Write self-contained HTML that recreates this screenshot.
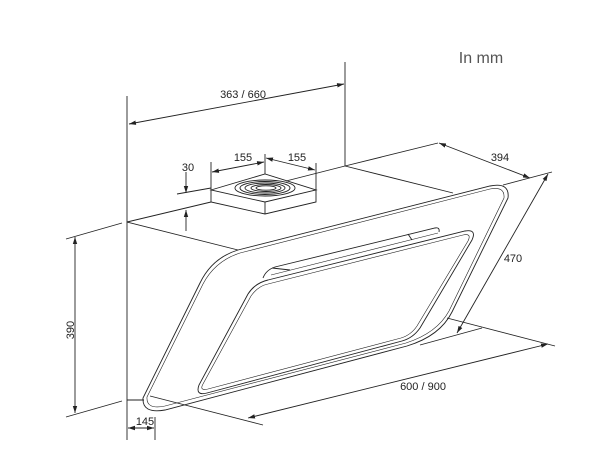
<!DOCTYPE html>
<html><head><meta charset="utf-8"><style>
html,body{margin:0;padding:0;background:#fff;}
svg{display:block;}
text{font-family:"Liberation Sans",sans-serif;font-size:11px;fill:#222;}
</style></head><body>
<svg width="600" height="470" viewBox="0 0 600 470" xmlns="http://www.w3.org/2000/svg">
<defs>
<marker id="a" markerWidth="8" markerHeight="6" refX="7" refY="3" orient="auto-start-reverse" markerUnits="userSpaceOnUse">
<path d="M0,0.8 L7,3 L0,5.2" fill="#222"/></marker>
</defs>
<g stroke="#222" stroke-width="0.9" fill="none">
<line x1="127" y1="96" x2="127" y2="440"/>
<line x1="345" y1="62" x2="345" y2="166"/>
<line x1="129" y1="124" x2="344" y2="84" marker-start="url(#a)" marker-end="url(#a)"/>
<line x1="127" y1="222" x2="211" y2="202"/>
<line x1="286" y1="181" x2="345" y2="166"/>
<line x1="345" y1="166" x2="453" y2="193"/>
<line x1="127" y1="222" x2="238" y2="250"/>
<line x1="345" y1="166" x2="438" y2="143"/>
<line x1="439" y1="143" x2="530" y2="178" marker-start="url(#a)" marker-end="url(#a)"/>
<line x1="503" y1="185" x2="552" y2="172"/>
<line x1="548" y1="174" x2="457" y2="333" marker-start="url(#a)" marker-end="url(#a)"/>
<line x1="447" y1="318" x2="555" y2="346"/>
<line x1="420" y1="345" x2="482" y2="328"/>
<line x1="248" y1="418" x2="548" y2="344" marker-start="url(#a)" marker-end="url(#a)"/>
<line x1="150" y1="396" x2="263" y2="425"/>
<line x1="75" y1="237" x2="75" y2="413" marker-start="url(#a)" marker-end="url(#a)"/>
<line x1="66" y1="239" x2="122" y2="223"/>
<line x1="66" y1="417" x2="122" y2="401"/>
<line x1="127" y1="400" x2="144" y2="400"/>
<line x1="155" y1="417" x2="155" y2="440"/>
<line x1="128" y1="428" x2="154" y2="428" marker-start="url(#a)" marker-end="url(#a)"/>
<path d="M211,190 L265,174 L316,190 L265,202 Z"/>
<path d="M211,190 L211,202 L265,214 L316,202 L316,190"/>
<line x1="265" y1="202" x2="265" y2="214"/>
<ellipse cx="265" cy="188" rx="30" ry="8"/>
<ellipse cx="265" cy="188" rx="25" ry="6.5"/>
<ellipse cx="265" cy="188" rx="20" ry="5"/>
<ellipse cx="266" cy="188" rx="15" ry="3.5"/>
<ellipse cx="266" cy="188" rx="10" ry="2.2"/>
<line x1="211" y1="162" x2="211" y2="190"/>
<line x1="265" y1="154" x2="265" y2="174"/>
<line x1="316" y1="163" x2="316" y2="190"/>
<line x1="212" y1="172" x2="264" y2="162" marker-start="url(#a)" marker-end="url(#a)"/>
<line x1="266" y1="158" x2="315" y2="170" marker-start="url(#a)" marker-end="url(#a)"/>
<line x1="186" y1="172" x2="186" y2="193" marker-end="url(#a)"/>
<line x1="177" y1="194" x2="211" y2="188"/>
<line x1="186" y1="231" x2="186" y2="210" marker-end="url(#a)"/>
<path d="M238,250 L490,186 Q510,182 508,198 L452,312 Q440,336 407,346 L165,410 Q142,414 143,398 L200,283 Q212,258 238,250 Z"/>
<path d="M240,253 L490,189 Q505,186 504,198 L449,311 Q437,333 406,343 L165,406 Q146,410 147,397 L203,284 Q215,261 240,253" stroke-width="0.6"/>
<path d="M268,280 L465,231 Q477,229 472,240 L420,328 Q413,338 402,341 L207,393 Q195,396 199,385 L248,294 Q255,283 268,280 Z"/>
<path d="M268,284 L463,235 Q472,233 468,241 L417,326 Q411,335 401,338 L208,389 Q199,391 203,384 L251,296 Q258,286 268,284" stroke-width="0.6"/>
<path d="M263,278 Q266,270 275,267 L435,228 Q440,227 439,232"/>
<line x1="271" y1="275" x2="438" y2="233" stroke-width="0.6"/>
<line x1="272" y1="268" x2="290" y2="270"/>
<line x1="408" y1="234" x2="412" y2="240"/>
</g>
<text x="243" y="98" text-anchor="middle">363 / 660</text>
<text x="243" y="161" text-anchor="middle">155</text>
<text x="297" y="161" text-anchor="middle">155</text>
<text x="188" y="171" text-anchor="middle">30</text>
<text x="500" y="161" text-anchor="middle">394</text>
<text x="513" y="262" text-anchor="middle">470</text>
<text x="423" y="390" text-anchor="middle">600 / 900</text>
<text x="145" y="425" text-anchor="middle">145</text>
<text x="74" y="330" text-anchor="middle" transform="rotate(-90 74 330)">390</text>
<text x="481" y="63" text-anchor="middle" style="font-size:16px;fill:#555">In mm</text>
</svg>
</body></html>
